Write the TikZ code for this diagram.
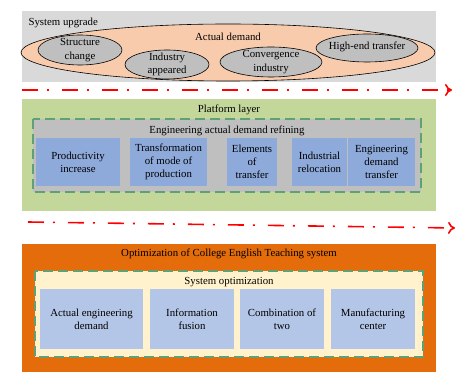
\documentclass[tikz,border=0pt]{standalone}
\usepackage{fontspec}
\setmainfont{Liberation Serif}
\usetikzlibrary{arrows.meta}
\definecolor{bgGray}{HTML}{D9D9D9}
\definecolor{peach}{HTML}{F8CBAD}
\definecolor{ellGray}{HTML}{BFBFBF}
\definecolor{bgGreen}{HTML}{C4D79B}
\definecolor{inGray}{HTML}{BFBFBF}
\definecolor{boxBlue}{HTML}{8EAADB}
\definecolor{bgOrange}{HTML}{E46C0A}
\definecolor{cream}{HTML}{FFF2CC}
\definecolor{lightBlue}{HTML}{B4C6E7}
\definecolor{dashGreen}{HTML}{5FA077}
\definecolor{arrRed}{HTML}{FF0000}
\begin{document}
\begin{tikzpicture}[x=1pt,y=-1pt,
  every node/.style={font=\fontsize{10.8}{13.3}\selectfont, text=black},
  dashbox/.style={draw=dashGreen, line width=1.8pt, dash pattern=on 10pt off 5pt},
  bluebox/.style={fill=boxBlue, align=center},
  lbbox/.style={fill=lightBlue, align=center},
  flow/.style={draw=arrRed, line width=1.6pt, dash pattern=on 16pt off 9pt on 2pt off 13pt, -{To[length=7pt,width=12pt,line width=1.6pt]}}
]
\useasboundingbox (0,0) rectangle (474,387);
% top layer
\path[fill=bgGray] (22,11) rectangle (436,82);
\node[anchor=west] (tUp) at (25,23) {System upgrade};
\draw[fill=peach, line width=0.6pt] (228,52.5) ellipse [x radius=207, y radius=28.5];
\node (tAD) at (228,37) {Actual demand};
\draw[fill=ellGray, line width=0.6pt] (80,50) ellipse [x radius=42, y radius=15];
\node[align=center] (e1) at (80,50) {Structure\\change};
\draw[fill=ellGray, line width=0.6pt] (167,64.5) ellipse [x radius=42, y radius=14.5];
\node[align=center] (e2) at (167,64.5) {Industry\\appeared};
\draw[fill=ellGray, line width=0.6pt] (271,62) ellipse [x radius=51, y radius=15];
\node[align=center] (e3) at (271,62) {Convergence\\industry};
\draw[fill=ellGray, line width=0.6pt] (367,48) ellipse [x radius=51, y radius=14];
\node[align=center] (e4) at (367,47) {High-end transfer};
% arrow 1
\coordinate (a1s) at (22,90);
\coordinate (a1e) at (452,90);
\draw[flow] (a1s) -- (a1e);
% platform layer
\path[fill=bgGreen] (22,99) rectangle (436,211);
\node (tPL) at (229,110) {Platform layer};
\path[fill=inGray] (33,119) rectangle (421,192);
\draw[dashbox] (33,119) rectangle (421,192);
\node (tEAD) at (227,131) {Engineering actual demand refining};
\node[bluebox, minimum width=84pt, minimum height=48pt] (b1) at (78,162) {Productivity\\increase};
\node[bluebox, minimum width=77pt, minimum height=48pt] (b2) at (168.5,162) {Transformation\\of mode of\\production};
\node[bluebox, minimum width=50pt, minimum height=48pt] (b3) at (252,162) {Elements\\of\\transfer};
\node[bluebox, minimum width=55pt, minimum height=48pt] (b4) at (319.5,162) {Industrial\\relocation};
\node[bluebox, minimum width=67pt, minimum height=48pt] (b5) at (381.5,162) {Engineering\\demand\\transfer};
% arrow 2
\coordinate (a2s) at (28,222);
\coordinate (a2e) at (455,228);
\draw[flow] (a2s) -- (a2e);
% bottom layer
\path[fill=bgOrange] (22,244) rectangle (436,372);
\node (tOpt) at (229,254) {Optimization of College English Teaching system};
\path[fill=cream] (35,271) rectangle (423,357);
\draw[dashbox] (35,271) rectangle (423,357);
\node (tSO) at (229,282) {System optimization};
\node[lbbox, minimum width=103pt, minimum height=60pt] (c1) at (91.5,319) {Actual engineering\\demand};
\node[lbbox, minimum width=84pt, minimum height=60pt] (c2) at (192,319) {Information\\fusion};
\node[lbbox, minimum width=84pt, minimum height=60pt] (c3) at (282,319) {Combination of\\two};
\node[lbbox, minimum width=84pt, minimum height=60pt] (c4) at (373,319) {Manufacturing\\center};
\end{tikzpicture}
\end{document}
